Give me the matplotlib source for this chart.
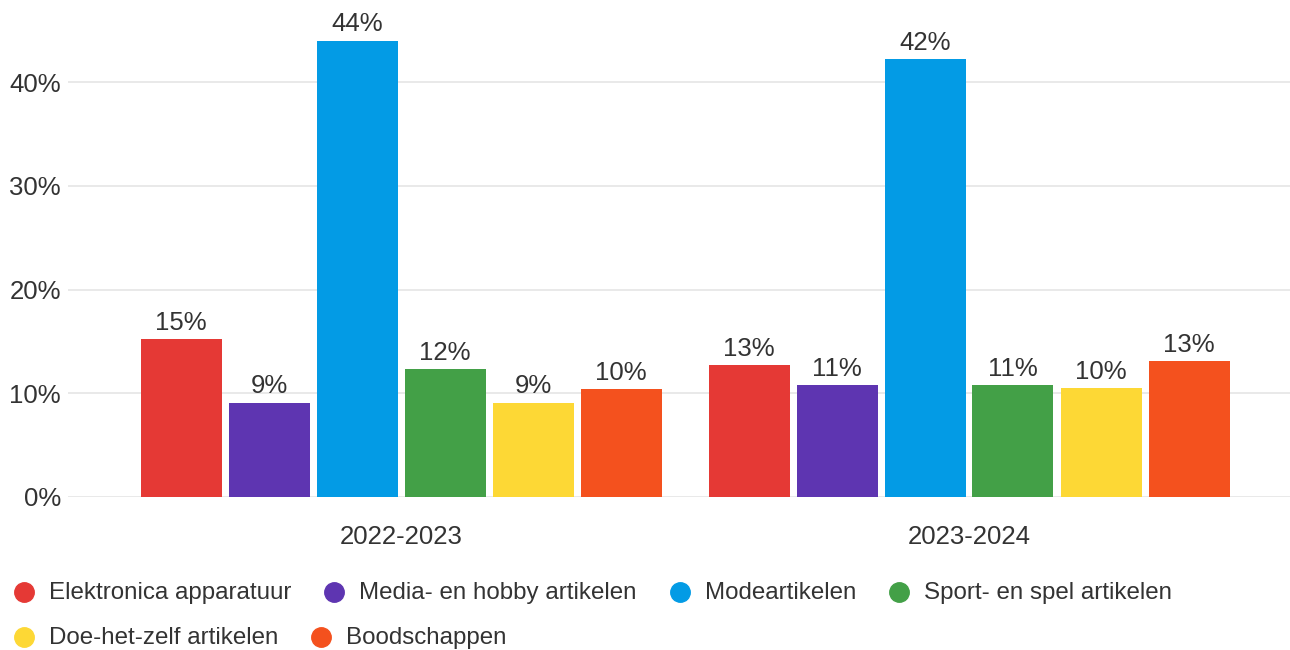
import matplotlib
matplotlib.use("Agg")
import matplotlib.pyplot as plt
from matplotlib.lines import Line2D
import numpy as np

plt.rcParams['font.family'] = ['Liberation Sans', 'DejaVu Sans']

periods = ["2022-2023", "2023-2024"]
series_names = ["Elektronica apparatuur", "Media- en hobby artikelen", "Modeartikelen",
                "Sport- en spel artikelen", "Doe-het-zelf artikelen", "Boodschappen"]
values = {
    "Elektronica apparatuur": [15.2, 12.7],
    "Media- en hobby artikelen": [9.1, 10.8],
    "Modeartikelen": [44.0, 42.2],
    "Sport- en spel artikelen": [12.3, 10.8],
    "Doe-het-zelf artikelen": [9.1, 10.5],
    "Boodschappen": [10.4, 13.1],
}
colors = ["#E53935", "#5E35B1", "#039BE5", "#43A047", "#FDD835", "#F4511E"]
yticks = [0, 10, 20, 30, 40]

W, H = 1290, 650
fig = plt.figure(figsize=(W / 100, H / 100), dpi=100)
ax = fig.add_axes([68 / W, 1 - 497 / H, 1 - 68 / W, 497 / H])

x = np.arange(len(periods))
pitch = 88 / 568
width = 81 / 568
n = len(series_names)
for i, name in enumerate(series_names):
    offs = (i - (n - 1) / 2) * pitch
    bars = ax.bar(x + offs, values[name], width=width, color=colors[i], zorder=3)
    for b, v in zip(bars, values[name]):
        ax.annotate(f"{round(v):.0f}%", (b.get_x() + b.get_width() / 2, b.get_height()),
                    xytext=(0, 3), textcoords="offset points", ha="center", va="bottom",
                    fontsize=18.5, color="#333333", annotation_clip=False)

ax.set_xlim((68 - 401) / 568, (1290 - 401) / 568)
ax.set_ylim(0, 497 / 10.375)
ax.set_yticks(yticks)
ax.set_yticklabels([f"{t}%" for t in yticks], fontsize=18.5, color="#333333")
ax.set_xticks(x)
ax.set_xticklabels(periods, fontsize=18.5, color="#333333")
ax.tick_params(axis="both", length=0)
ax.tick_params(axis="y", pad=5)
ax.tick_params(axis="x", pad=20)
ax.grid(axis="y", color="#e5e5e5", linewidth=1.2, zorder=0)
ax.set_axisbelow(True)
for s in ax.spines.values():
    s.set_visible(False)

# legend rows
rows = [[0, 1, 2, 3], [4, 5]]
row_y = [593, 638]
fig.canvas.draw()
renderer = fig.canvas.get_renderer()
for row, yy in zip(rows, row_y):
    xx = 24
    for idx in row:
        yf = 1 - yy / H
        fig.add_artist(Line2D([xx / W], [1 - (yy - 1) / H], marker="o", markersize=14,
                              color=colors[idx], linestyle="none", transform=fig.transFigure))
        t = fig.text((xx + 25) / W, yf, series_names[idx], fontsize=17.4, color="#333333",
                     va="center", ha="left")
        bb = t.get_window_extent(renderer=renderer)
        xx = bb.x1 + 43

fig.savefig("out.png", dpi=100)
